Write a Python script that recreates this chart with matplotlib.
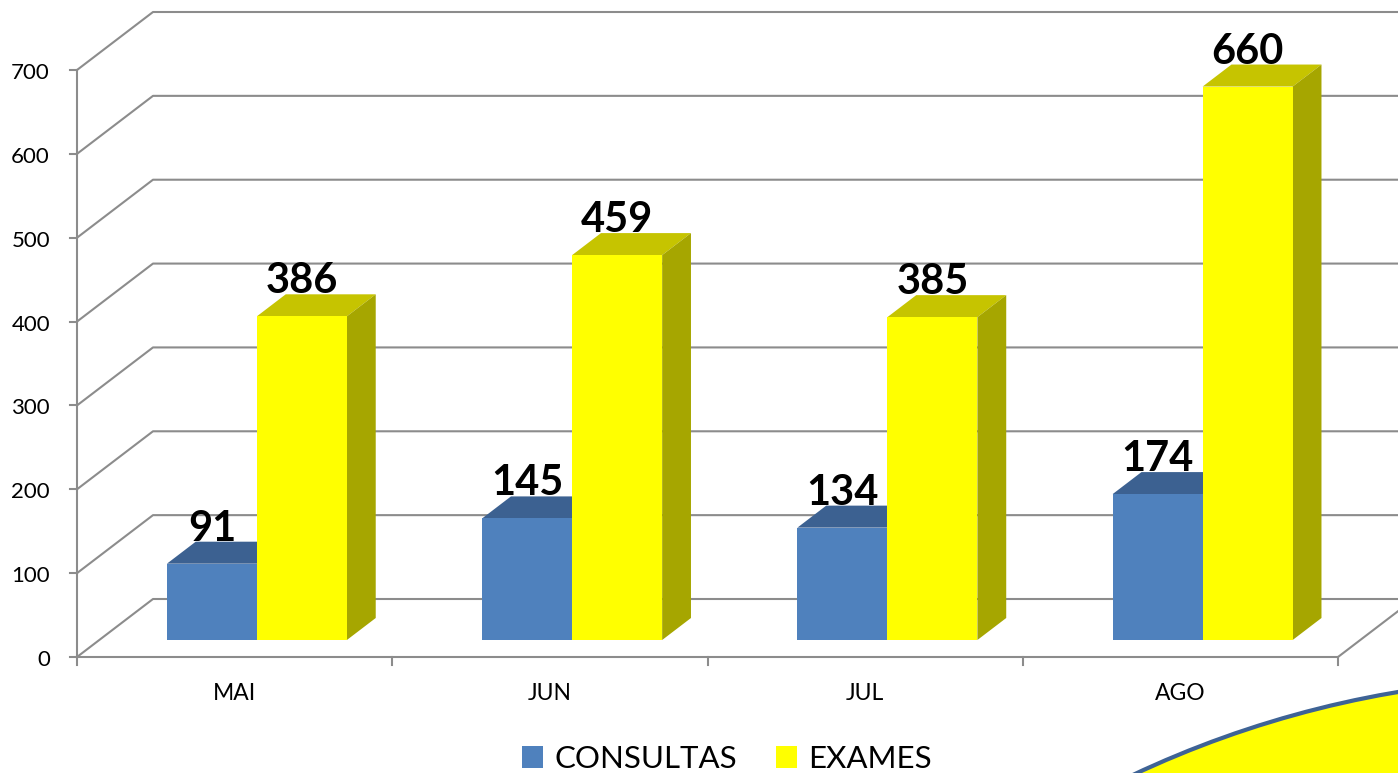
import matplotlib
matplotlib.use('Agg')
import matplotlib.pyplot as plt
from matplotlib.patches import Polygon, Ellipse, Patch

months = ['MAI', 'JUN', 'JUL', 'AGO']
consultas = [91, 145, 134, 174]
exames = [386, 459, 385, 660]
y_ticks = [0, 100, 200, 300, 400, 500, 600, 700]
series_names = ['CONSULTAS', 'EXAMES']

W, H, DPI = 1398, 773, 100
plt.rcParams['font.family'] = ['Lato', 'DejaVu Sans']

# pixel geometry of the oblique frame
X_LEFT_PX, X_RIGHT_PX, Y0_PX, YTOP_PX = 77, 1338, 657, 70
px_per_x = (X_RIGHT_PX - X_LEFT_PX) / len(months)
px_per_y = (Y0_PX - YTOP_PX) / y_ticks[-1]
xmin = -0.5 - X_LEFT_PX / px_per_x
xmax = -0.5 + (W - X_LEFT_PX) / px_per_x
ymin = -(H - Y0_PX) / px_per_y
ymax = Y0_PX / px_per_y


def dx(px):
    return px / px_per_x


def dy(px):
    return px / px_per_y


DX, DY = dx(76), dy(58)
F0, FD = 17 / 58, 22 / 58
BW = dx(90)

fig = plt.figure(figsize=(W / DPI, H / DPI), dpi=DPI)
ax = fig.add_axes([0, 0, 1, 1])
ax.set_xlim(xmin, xmax)
ax.set_ylim(ymin, ymax)
ax.axis('off')

grid_c = '#8C8C8C'
lw = 1.5
x_front = -0.5
x_end = len(months) - 0.5
for v in y_ticks:
    ax.plot([x_front, x_front + DX, xmax + 1], [v, v + DY, v + DY],
            color=grid_c, lw=lw, zorder=1, solid_capstyle='butt')
    ax.plot([x_front - dx(7), x_front], [v, v], color=grid_c, lw=lw, zorder=1)
    ax.text(x_front - dx(27), v - dy(9), str(v), ha='right', va='baseline',
            fontsize=16, color='black')
ax.plot([x_front, x_front], [0, y_ticks[-1]], color=grid_c, lw=lw, zorder=1)
ax.plot([x_front, x_end, x_end + DX], [0, 0, DY], color=grid_c, lw=lw, zorder=1)
for k in range(len(months) + 1):
    ax.plot([k - 0.5, k - 0.5], [0, -dy(8)], color=grid_c, lw=lw, zorder=1)
for i, m in enumerate(months):
    ax.text(i, -dy(43), m, ha='center', va='baseline', fontsize=16.5, color='black')

b0 = F0 * DY


def draw_bar(xl, v, cf, ct, cs, zo):
    ax.bar(xl, v, width=BW, bottom=b0, align='edge', color=cf,
           edgecolor='none', zorder=zo, linewidth=0)
    top = [(xl, v + b0), (xl + BW, v + b0),
           (xl + BW + FD * DX, v + b0 + FD * DY), (xl + FD * DX, v + b0 + FD * DY)]
    side = [(xl + BW, b0), (xl + BW, v + b0),
            (xl + BW + FD * DX, v + b0 + FD * DY), (xl + BW + FD * DX, b0 + FD * DY)]
    ax.add_patch(Polygon(top, closed=True, facecolor=ct, edgecolor='none', zorder=zo - 0.5))
    ax.add_patch(Polygon(side, closed=True, facecolor=cs, edgecolor='none', zorder=zo - 0.5))
    ax.text(xl + BW / 2, v + b0 + FD * DY + dy(1), str(v), ha='center',
            va='baseline', fontsize=30, fontweight='bold', color='black', zorder=20)


for i in range(len(months)):
    xc = i + F0 * DX
    draw_bar(xc - BW, consultas[i], '#4F81BD', '#3C6191', '#35557F', 4)
    draw_bar(xc, exames[i], '#FFFF00', '#C6C400', '#A6A600', 6)

handles = [Patch(facecolor='#4F81BD', edgecolor='none'),
           Patch(facecolor='#FFFF00', edgecolor='none')]
fig.legend(handles, series_names, loc='center', ncol=2, frameon=False,
           bbox_to_anchor=(727 / W, 1 - 759 / H), fontsize=22.5,
           handlelength=0.67, handleheight=0.67, handletextpad=0.35,
           columnspacing=1.25, borderpad=0)

ax.add_patch(Ellipse((1566 / W, 1 - 1694 / H), 2 * 1016 / W, 2 * 1016 / H,
                     transform=ax.transAxes, facecolor='#FFFF00',
                     edgecolor='#3E6395', lw=3, zorder=30))

fig.savefig('out.png', dpi=DPI)
